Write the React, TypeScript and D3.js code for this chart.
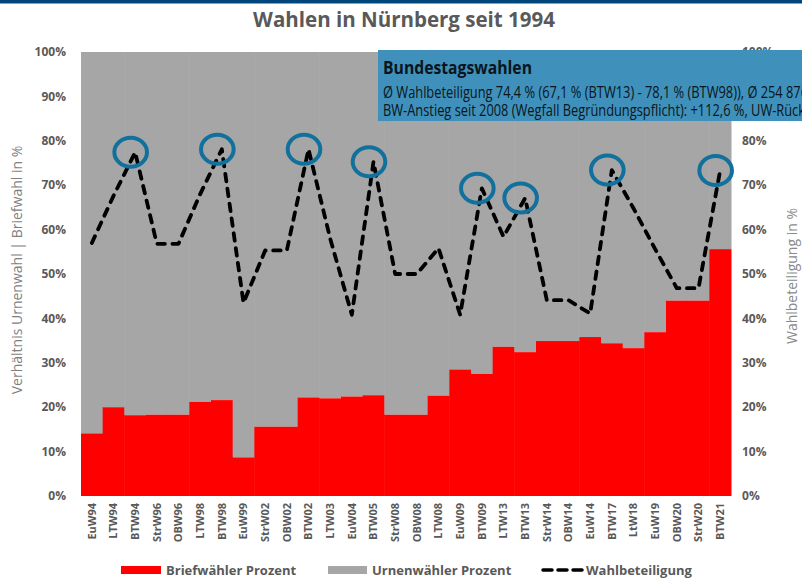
import React from "react";
import * as d3 from "d3";

const categories = ["EuW94","LTW94","BTW94","StrW96","OBW96","LTW98","BTW98","EuW99","StrW02","OBW02","BTW02","LTW03","EuW04","BTW05","StrW08","OBW08","LTW08","EuW09","BTW09","LTW13","BTW13","StrW14","OBW14","EuW14","BTW17","LtW18","EuW19","OBW20","StrW20","BTW21"];
const briefwahl = [14.1,20.0,18.2,18.3,18.3,21.2,21.6,8.7,15.6,15.6,22.2,22.0,22.4,22.7,18.3,18.3,22.6,28.5,27.5,33.6,32.4,34.9,34.9,35.8,34.4,33.3,36.9,44.0,44.0,55.6];
const wahlbeteiligung = [57.0,67.6,77.4,56.8,56.8,68.0,78.1,43.5,55.3,55.3,78.1,58.0,40.8,75.3,50.0,50.0,55.8,40.8,69.3,58.4,67.1,44.1,44.1,41.1,73.4,64.8,55.6,46.8,46.8,73.3];
const yTicks = [0,10,20,30,40,50,60,70,80,90,100];
const highlighted = ["BTW94","BTW98","BTW02","BTW05","BTW09","BTW13","BTW17","BTW21"];
const boxTitle = "Bundestagswahlen";
const boxLine1 = "Ø Wahlbeteiligung 74,4 % (67,1 % (BTW13) - 78,1 % (BTW98)), Ø 254 876";
const boxLine2 = "BW-Anstieg seit 2008 (Wegfall Begründungspflicht): +112,6 %, UW-Rück";

const W = 802, H = 579;
const FONT = "'Open Sans', 'Noto Sans', sans-serif";
const GREYTXT = "#595959";

export default function App() {
  const x = d3.scaleBand<string>().domain(categories).range([81, 731]).padding(0);
  const y = d3.scaleLinear().domain([0, 100]).range([496, 52]);
  const bw = x.bandwidth();
  const cx = (c: string) => (x(c) as number) + bw / 2;
  const line = d3.line<number>()
    .x((_, i) => cx(categories[i]))
    .y((d) => y(d));

  return (
    <svg width={W} height={H} style={{ position: "absolute", left: 0, top: 0, background: "#fff" }}>
      <rect x={0} y={0} width={W} height={3.5} fill="#00467a" />
      <text x={404} y={27} textAnchor="middle" fontFamily={FONT} fontWeight={700} fontSize={20.5} fill={GREYTXT}>
        Wahlen in Nürnberg seit 1994
      </text>

      {/* bars */}
      {categories.map((c, i) => (
        <g key={c}>
          <rect x={x(c)} y={y(100)} width={bw + 0.5} height={y(briefwahl[i]) - y(100)} fill="#a6a6a6" />
          <rect x={x(c)} y={y(briefwahl[i])} width={bw + 0.5} height={y(0) - y(briefwahl[i])} fill="#ff0000" />
        </g>
      ))}

      {/* turnout line */}
      <path d={line(wahlbeteiligung) || ""} fill="none" stroke="#000" strokeWidth={3.8}
        strokeDasharray="7.5 7.5" strokeLinecap="round" strokeLinejoin="round" />

      {/* highlight circles */}
      {highlighted.map((c) => {
        const i = categories.indexOf(c);
        return (
          <ellipse key={c} cx={cx(c) - 4.5} cy={y(wahlbeteiligung[i])} rx={16.3} ry={14.5}
            fill="none" stroke="#12709c" strokeWidth={4} />
        );
      })}

      {/* left axis */}
      {yTicks.map((t) => (
        <text key={"l" + t} x={66} y={y(t)} dy="0.35em" textAnchor="end" fontFamily={FONT}
          fontWeight={700} fontSize={12} fill={GREYTXT}>{t}%</text>
      ))}
      {/* right axis */}
      {yTicks.map((t) => (
        <text key={"r" + t} x={742} y={y(t)} dy="0.35em" textAnchor="start" fontFamily={FONT}
          fontWeight={700} fontSize={12} fill={GREYTXT}>{t}%</text>
      ))}
      <text transform="translate(22,270) rotate(-90)" textAnchor="middle" fontFamily={FONT}
        fontSize={14} fill="#7f7f7f">Verhältnis Urnenwahl | Briefwahl in %</text>
      <text transform="translate(797,276) rotate(-90)" textAnchor="middle" fontFamily={FONT}
        fontSize={14} fill="#8a8a8a">Wahlbeteiligung in %</text>

      {/* x labels */}
      {categories.map((c) => (
        <text key={"x" + c} transform={`translate(${cx(c)},503) rotate(-90)`} dy="0.35em"
          textAnchor="end" fontFamily={FONT} fontWeight={700} fontSize={11} fill={GREYTXT}>{c}</text>
      ))}

      {/* info box */}
      <rect x={378} y={50} width={430} height={71} fill="#3f91bb" />
      <text x={383} y={73.5} fontFamily={FONT} fontWeight={700} fontSize={18} fill="#0a1520"
        textLength={149} lengthAdjust="spacingAndGlyphs">{boxTitle}</text>
      <text x={383} y={97.5} fontFamily={FONT} fontSize={16} fill="#0a1520"
        textLength={425} lengthAdjust="spacingAndGlyphs">{boxLine1}</text>
      <text x={383} y={115.5} fontFamily={FONT} fontSize={16} fill="#0a1520"
        textLength={422} lengthAdjust="spacingAndGlyphs">{boxLine2}</text>

      {/* legend */}
      <rect x={121} y={566} width={40} height={8} fill="#ff0000" />
      <text x={166} y={575} fontFamily={FONT} fontWeight={700} fontSize={13} fill={GREYTXT}>Briefwähler Prozent</text>
      <rect x={328} y={566} width={39} height={8} fill="#a6a6a6" />
      <text x={372} y={575} fontFamily={FONT} fontWeight={700} fontSize={13} fill={GREYTXT}>Urnenwähler Prozent</text>
      <line x1={543} x2={583} y1={570} y2={570} stroke="#000" strokeWidth={3.5} strokeDasharray="9 6" strokeLinecap="round" />
      <text x={586} y={575} fontFamily={FONT} fontWeight={700} fontSize={13} fill={GREYTXT}>Wahlbeteiligung</text>
    </svg>
  );
}
